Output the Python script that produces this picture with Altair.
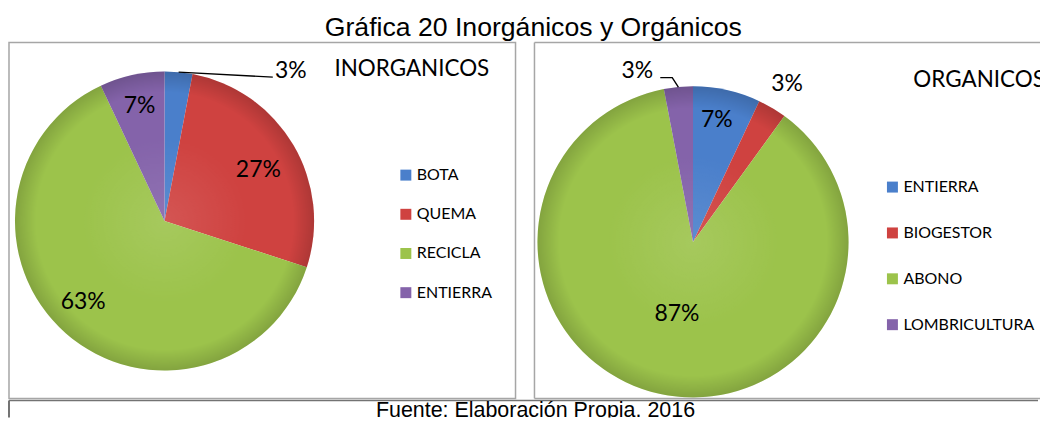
import altair as alt
import pandas as pd
import numpy as np

# ---------------- data ----------------
TITLE = "Gráfica 20 Inorgánicos y Orgánicos"
SOURCE = "Fuente: Elaboración Propia. 2016"

INORG_TITLE = "INORGANICOS"
INORG_CATS = ["BOTA", "QUEMA", "RECICLA", "ENTIERRA"]
INORG_VALS = [3, 27, 63, 7]

ORG_TITLE = "ORGANICOS"
ORG_CATS = ["ENTIERRA", "BIOGESTOR", "ABONO", "LOMBRICULTURA"]
ORG_VALS = [7, 3, 87, 3]

COLORS = ["#4A7FCB", "#CF4240", "#9CC34B", "#8463AA"]

# ---------------- layout ----------------
TXT_FONT = "Lato"
SANS = "Liberation Sans"
LEFT_W, RIGHT_W, PANEL_H = 508, 507, 357
FOOT_W, FOOT_H = 1032, 17
FRAME = "#A6A6A6"

# pie geometry inside each panel (view coords)
L_CX, L_CY, L_R = 156, 179, 150
R_CX, R_CY, R_R = 159, 200, 156
# label placement: radius factor and angular turn (deg) from slice middle
L_LAB_RF = [1.31, 0.715, 0.77, 0.785]
L_LAB_TURN = [34.7, 1.9, 3.6, 0.3]
R_LAB_RF = [0.80, 1.18, 0.473, 1.158]
R_LAB_TURN = [-1.6, 0.2, 0.0, -12.6]
# leader lines: slice index -> list of offsets from label centre
L_LEADERS = {0: [(-18, 6)]}
R_LEADERS = {3: [(35, 7), (23, 7)]}

SHADE = alt.RadialGradient(
    gradient="radial", x1=0.5, y1=0.5, r1=0, x2=0.5, y2=0.5, r2=0.5,
    stops=[
        alt.GradientStop(color="rgba(255,255,255,0.10)", offset=0),
        alt.GradientStop(color="rgba(255,255,255,0)", offset=0.55),
        alt.GradientStop(color="rgba(0,0,0,0)", offset=0.86),
        alt.GradientStop(color="rgba(0,0,0,0.16)", offset=1),
    ],
)


def tables(cats, vals, cx, cy, r, rf, turn, leaders):
    v = np.array(vals, dtype=float)
    tot = v.sum()
    mid = (np.cumsum(v) - v / 2) / tot * 2 * np.pi
    ang = mid + np.radians(turn)
    rr = np.array(rf) * r
    lx = cx + rr * np.sin(ang)
    ly = cy - rr * np.cos(ang)
    pie = pd.DataFrame({"cat": cats, "val": vals, "idx": range(len(cats))})
    labs = pd.DataFrame({
        "txt": [f"{int(round(x / tot * 100))}%" for x in v],
        "lx": lx, "ly": ly,
    })
    rows = []
    for i, offs in leaders.items():
        ex = cx + r * np.sin(mid[i])
        ey = cy - r * np.cos(mid[i])
        pts = [(ex, ey)] + [(lx[i] + dx, ly[i] + dy) for dx, dy in offs]
        for k, (px, py) in enumerate(pts):
            rows.append({"g": i, "k": k, "px": px, "py": py})
    lead = pd.DataFrame(rows)
    return pie, labs, lead


def panel(cats, vals, cx, cy, r, rf, turn, leaders, title, tx, ty, talign,
          w, legx, legy, rowpad, open_right=False):
    pie, labs, lead = tables(cats, vals, cx, cy, r, rf, turn, leaders)
    arcs = alt.Chart(pie).mark_arc(radius=r).encode(
        theta=alt.Theta("val:Q", stack=True),
        color=alt.Color(
            "cat:N", sort=cats,
            scale=alt.Scale(domain=cats, range=COLORS),
            legend=alt.Legend(
                title=None, orient="none", legendX=legx, legendY=legy,
                symbolType="square", symbolSize=121, symbolStrokeWidth=0,
                symbolOpacity=1, labelFont=TXT_FONT, labelFontSize=16,
                labelColor="black", labelOffset=3, rowPadding=rowpad,
                padding=0,
            ),
        ),
        order=alt.Order("idx:Q"),
        x=alt.value(cx), y=alt.value(cy),
    )
    shade = alt.Chart(pd.DataFrame({"whole": [sum(vals)]})).mark_arc(
        radius=r, fill=SHADE
    ).encode(
        theta=alt.Theta("whole:Q", scale=alt.Scale(domain=[0, sum(vals)])),
        x=alt.value(cx), y=alt.value(cy),
    )
    labels = alt.Chart(labs).mark_text(
        font=TXT_FONT, fontSize=23, color="black", baseline="middle",
        align="center",
    ).encode(
        x=alt.X("lx:Q", scale=None), y=alt.Y("ly:Q", scale=None),
        text="txt:N",
    )
    lines = alt.Chart(lead).mark_line(color="black", strokeWidth=1.4).encode(
        x=alt.X("px:Q", scale=None), y=alt.Y("py:Q", scale=None),
        detail="g:N", order="k:Q",
    )
    one = pd.DataFrame({"t": [title]})
    head = alt.Chart(one).mark_text(
        font=TXT_FONT, fontSize=22.5, color="black", baseline="middle",
        align=talign, clip=True,
    ).encode(x=alt.value(tx), y=alt.value(ty), text="t:N")
    layers = [arcs, shade, lines, labels, head]
    props = dict(width=w, height=PANEL_H)
    if open_right:
        # frame continues past the page edge: draw top, left, bottom only
        rule = alt.Chart(one).mark_rule(color=FRAME, strokeWidth=1.5)
        layers += [
            rule.encode(x=alt.value(0), x2=alt.value(w), y=alt.value(0)),
            rule.encode(x=alt.value(0), x2=alt.value(w), y=alt.value(PANEL_H)),
            rule.encode(x=alt.value(0), y=alt.value(0), y2=alt.value(PANEL_H)),
        ]
        props["view"] = alt.ViewBackground(strokeWidth=0)
    return alt.layer(*layers).resolve_scale(theta="independent").properties(
        **props
    )


left = panel(INORG_CATS, INORG_VALS, L_CX, L_CY, L_R, L_LAB_RF, L_LAB_TURN,
             L_LEADERS, INORG_TITLE, 404, 27, "center", LEFT_W, 390, 125, 23.3)
right = panel(ORG_CATS, ORG_VALS, R_CX, R_CY, R_R, R_LAB_RF, R_LAB_TURN,
              R_LEADERS, ORG_TITLE, 380, 38, "left", RIGHT_W, 351, 137, 30,
              open_right=True)

top = alt.hconcat(left, right, spacing=17).resolve_scale(
    color="independent", theta="independent"
).resolve_legend(color="independent")

src = pd.DataFrame({"t": [SOURCE]})
foot_text = alt.Chart(src).mark_text(
    font=SANS, fontSize=21.5, color="black", baseline="alphabetic",
    align="center", clip=True,
).encode(x=alt.value(528), y=alt.value(FOOT_H - 0.3), text="t:N")
foot_top = alt.Chart(src).mark_rule(color="#737373", strokeWidth=1.5).encode(
    x=alt.value(0), x2=alt.value(FOOT_W), y=alt.value(0)
)
foot_left = alt.Chart(src).mark_rule(color="#737373", strokeWidth=2).encode(
    x=alt.value(0), y=alt.value(0), y2=alt.value(FOOT_H)
)
footer = alt.layer(foot_top, foot_left, foot_text).properties(
    width=FOOT_W, height=FOOT_H,
    view=alt.ViewBackground(strokeWidth=0),
)

chart = alt.vconcat(top, footer, spacing=0).properties(
    title=alt.TitleParams(
        TITLE, font=SANS, fontSize=26.7, fontWeight="normal", color="black",
        anchor="middle", offset=0, dx=9,
    ),
    padding={"left": 0, "top": 6, "right": 0, "bottom": 0},
).configure_view(stroke=FRAME, strokeWidth=1.5)

chart.save("out.html", embed_options={"renderer": "svg", "actions": False})
